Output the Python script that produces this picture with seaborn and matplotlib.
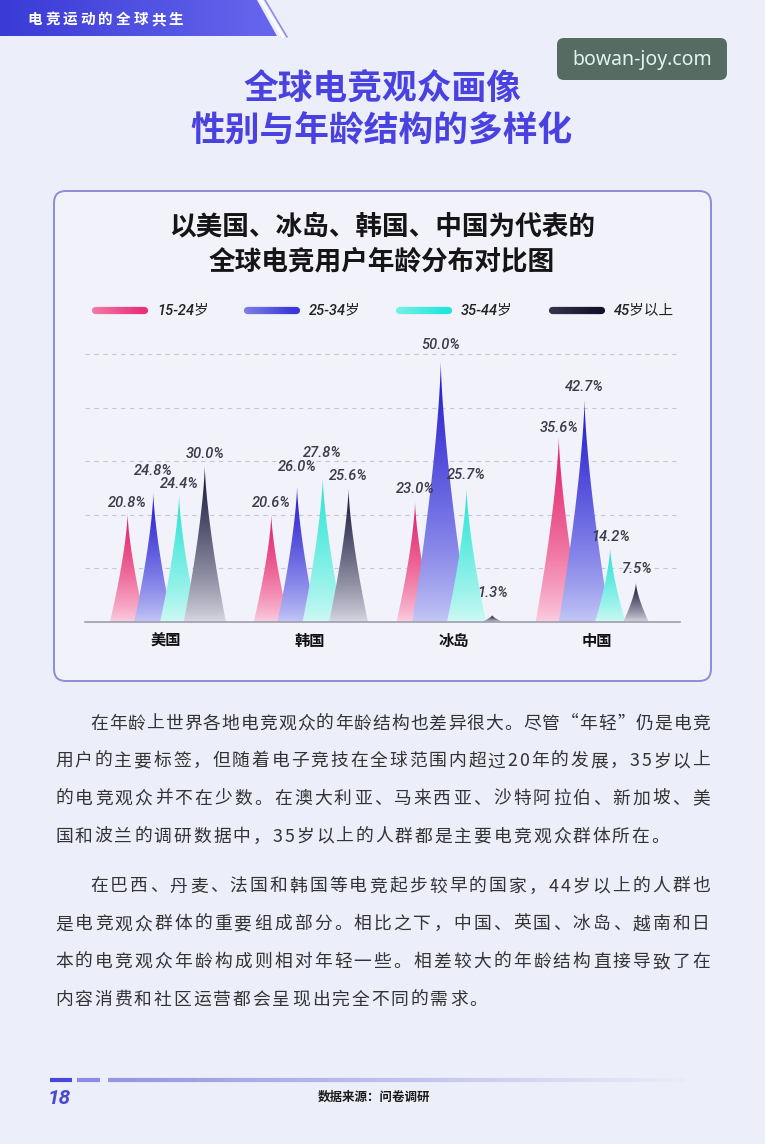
import numpy as np
import pandas as pd
import seaborn as sns
import matplotlib.pyplot as plt
from matplotlib.colors import LinearSegmentedColormap, to_rgb
from matplotlib.patches import Polygon, FancyBboxPatch
from matplotlib.collections import LineCollection
from matplotlib.font_manager import FontProperties

# ---- data ----
countries = ['美国', '韩国', '冰岛', '中国']
age_groups = ['15-24岁', '25-34岁', '35-44岁', '45岁以上']
share_15_24 = [20.8, 20.6, 23.0, 35.6]
share_25_34 = [24.8, 26.0, 50.0, 42.7]
share_35_44 = [24.4, 27.8, 25.7, 14.2]
share_45_up = [30.0, 25.6, 1.3, 7.5]

page_tag = '电竞运动的全球共生'
title_lines = ['全球电竞观众画像', '性别与年龄结构的多样化']
chart_title_lines = ['以美国、冰岛、韩国、中国为代表的', '全球电竞用户年龄分布对比图']
para1 = ['在年龄上世界各地电竞观众的年龄结构也差异很大。尽管“年轻”仍是电竞',
         '用户的主要标签，但随着电子竞技在全球范围内超过20年的发展，35岁以上',
         '的电竞观众并不在少数。在澳大利亚、马来西亚、沙特阿拉伯、新加坡、美',
         '国和波兰的调研数据中，35岁以上的人群都是主要电竞观众群体所在。']
para2 = ['在巴西、丹麦、法国和韩国等电竞起步较早的国家，44岁以上的人群也',
         '是电竞观众群体的重要组成部分。相比之下，中国、英国、冰岛、越南和日',
         '本的电竞观众年龄构成则相对年轻一些。相差较大的年龄结构直接导致了在',
         '内容消费和社区运营都会呈现出完全不同的需求。']
source = '数据来源：问卷调研'
page_no = '18'
watermark = 'bowan-joy.com'

# ---- styles ----
spike_colors = [('#fbd0e2', '#ef6f9e', '#de1c64'), ('#c6c9f6', '#7270e4', '#2218cc'),
                ('#d2f9f4', '#7cefe6', '#26e2d6'), ('#dadae4', '#76768e', '#14143a')]
legend_colors = [('#f27aa6', '#e8327a'), ('#7d7de8', '#3a38d8'),
                 ('#74f0e6', '#22e6dc'), ('#34344e', '#12122a')]
# label lift above the peak, px (avoid overlaps like in the original)
label_lift = [[11, 12, 13, 9], [22, 20, 17, 13], [11, 24, 13, 11], [12, 13, 22, 14]]

sns.set_theme(style='white')
plt.rcParams['font.family'] = ['Noto Sans CJK SC', 'DejaVu Sans']

W, H = 765, 1144
bg = '#eceef9'
fig = plt.figure(figsize=(W / 100, H / 100), dpi=100, facecolor=bg)

# page overlay in pixel coordinates
pg = fig.add_axes([0, 0, 1, 1], zorder=0)
pg.set_facecolor(bg)
pg.axis('off')


def grad_img(ax, extent, colors, clip, horizontal=False, zorder=1, gamma=1.0):
    cmap = LinearSegmentedColormap.from_list('g', list(colors))
    arr = np.linspace(0, 1, 256) ** gamma
    arr = arr[None, :] if horizontal else arr[:, None]
    im = ax.imshow(arr, cmap=cmap, extent=extent, origin='lower', aspect='auto',
                   zorder=zorder, interpolation='bicubic', vmin=0, vmax=1)
    im.set_clip_path(clip)
    return im


# top-left banner
banner = Polygon([(0, 0), (257, 0), (277, 36), (0, 36)], closed=True,
                 facecolor='none', edgecolor='none')
pg.add_patch(banner)
grad_img(pg, [0, 280, 36, 0], ('#3a3ad6', '#6767ee'), banner, horizontal=True)
pg.plot([261, 283], [0, 37], color='#ffffff', lw=1.8, zorder=2)
pg.plot([265, 287], [0, 37], color='#8d8fe2', lw=1.2, zorder=2)
tag_prop = FontProperties(family=['Noto Sans CJK SC', 'DejaVu Sans'], weight='bold', size=10.5)
for i, ch in enumerate(page_tag):
    pg.text(35 + i * 17.6, 24, ch, fontproperties=tag_prop, color='white',
            ha='center', va='baseline', zorder=3)

# watermark
pg.add_patch(FancyBboxPatch((557, 38), 170, 42, boxstyle='round,pad=0,rounding_size=7',
                            facecolor='#566b62', edgecolor='none', zorder=2))
pg.text(642, 60, watermark, family='Noto Sans', fontsize=14, color='#def6f1',
        ha='center', va='center', zorder=3)

# main title
for y, line in zip([89, 131], title_lines):
    pg.text(382, y, line, fontsize=25, fontweight=900, color='#4a42e0',
            ha='center', va='center')

# chart card
pg.add_patch(FancyBboxPatch((54, 191), 657, 490, boxstyle='round,pad=0,rounding_size=12',
                            facecolor='#f2f2fb', edgecolor='#8d8dd4', lw=1.4, zorder=1))
for y, line in zip([227, 262], chart_title_lines):
    pg.text(382, y, line, fontsize=19.2, fontweight=900, color='#151515',
            ha='center', va='center', zorder=3)

# legend
leg_x = [95, 247, 399, 552]
leg_y = 310
for x0, (c0, c1), lab in zip(leg_x, legend_colors, age_groups):
    xs = np.linspace(x0, x0 + 49, 21)
    segs = [[(xs[i], leg_y), (xs[i + 1], leg_y)] for i in range(20)]
    cols = [tuple(np.array(to_rgb(c0)) * (1 - t) + np.array(to_rgb(c1)) * t)
            for t in np.linspace(0, 1, 20)]
    pg.add_collection(LineCollection(segs, colors=cols, linewidths=5.2,
                                     capstyle='round', zorder=3))
    pg.text(x0 + 62, leg_y, lab, family=['Roboto', 'Noto Sans CJK SC'], style='italic',
            fontweight='medium', fontsize=10.5, color='#222222', ha='left', va='center',
            zorder=3)

# ---- chart ----
ax = fig.add_axes([85 / W, (H - 622) / H, 595 / W, 282 / H], zorder=2)
ax.set_facecolor('none')
df = pd.DataFrame({
    'country': np.repeat(countries, 4),
    'age': age_groups * 4,
    'share': np.ravel(np.column_stack([share_15_24, share_25_34, share_35_44, share_45_up])),
})
sns.barplot(data=df, x='country', y='share', hue='age', order=countries,
            hue_order=age_groups, width=0.716, errorbar=None, legend=False, ax=ax)

px_per_x = 595 / (3.575 + 0.565)
for k, cont in enumerate(ax.containers):
    for j, bar in enumerate(cont):
        bar.set_visible(False)
        xc = bar.get_x() + bar.get_width() / 2
        h = bar.get_height()
        w = (10 + 0.37 * h) / px_per_x
        xs = np.linspace(-w, w, 301)
        ys = h * (1 - (np.abs(xs) / w) ** 0.7)
        poly = Polygon(np.column_stack([xc + xs, ys]), closed=True,
                       facecolor='none', edgecolor='none')
        ax.add_patch(poly)
        grad_img(ax, [xc - w, xc + w, 0, h], spike_colors[k], poly, zorder=2, gamma=0.8)
        ax.annotate(f'{h:.1f}%', (xc, h), xytext=(0, label_lift[k][j] * 0.72),
                    textcoords='offset points', ha='center', va='center',
                    family=['Roboto', 'DejaVu Sans'], style='italic', fontweight='medium',
                    fontsize=10.5, color='#3a3a48', zorder=4)

ax.set_xlim(-0.565, 3.575)
ax.set_ylim(0, 282 / 5.2)
ax.set_yticks(np.arange(1, 6) * 10.3)
ax.set_yticklabels([])
ax.grid(axis='y', linestyle=(0, (4, 4)), color='#c6c6d4', lw=0.8)
ax.grid(axis='x', visible=False)
ax.set_axisbelow(True)
sns.despine(ax=ax, left=True, top=True, right=True)
ax.spines['bottom'].set_color('#9d9dac')
ax.spines['bottom'].set_linewidth(1.2)
ax.tick_params(axis='both', length=0)
ax.tick_params(axis='x', pad=8)
ax.set_xticks(range(len(countries)))
ax.set_xticklabels(countries, fontsize=11, fontweight=900, color='#111111')
ax.set_xlabel('')
ax.set_ylabel('')

# ---- body text, justified ----
renderer = fig.canvas.get_renderer()
body_prop = FontProperties(family=['Noto Sans CJK SC', 'DejaVu Sans'], size=12.8)


def put_line(line, x0, x1, y, justify):
    widths = [renderer.get_text_width_height_descent(ch, body_prop, ismath=False)[0]
              for ch in line]
    gap = (x1 - x0 - sum(widths)) / (len(line) - 1) if justify else 2.0
    x = x0
    for ch, wd in zip(line, widths):
        pg.text(x, y, ch, fontproperties=body_prop, color='#333333',
                ha='left', va='baseline', zorder=3)
        x += wd + gap


for para, y0 in [(para1, 722), (para2, 885)]:
    for i, line in enumerate(para):
        x0 = 90 if i == 0 else 55
        put_line(line, x0, 710, y0 + i * 37.7 + 6.5, i < len(para) - 1)

# ---- footer ----
pg.plot([50, 72], [1080, 1080], color='#4848d8', lw=3, solid_capstyle='butt', zorder=2)
pg.plot([77, 100], [1080, 1080], color='#8c8ce8', lw=3, solid_capstyle='butt', zorder=2)
fx = np.linspace(108, 700, 41)
fsegs = [[(fx[i], 1080), (fx[i + 1], 1080)] for i in range(40)]
fcols = [(0.55, 0.55, 0.88, a) for a in np.linspace(0.9, 0.0, 40)]
pg.add_collection(LineCollection(fsegs, colors=fcols, linewidths=3, zorder=2))
pg.text(48, 1098, page_no, family=['Roboto', 'DejaVu Sans'], style='italic',
        fontweight='bold', fontsize=15, color='#4a4ad4', ha='left', va='center', zorder=3)
pg.text(374, 1097, source, fontsize=9, fontweight='bold', color='#1a1a1a',
        ha='center', va='center', zorder=3)

pg.set_xlim(0, W)
pg.set_ylim(H, 0)

fig.savefig('out.png', dpi=100, facecolor=bg)
